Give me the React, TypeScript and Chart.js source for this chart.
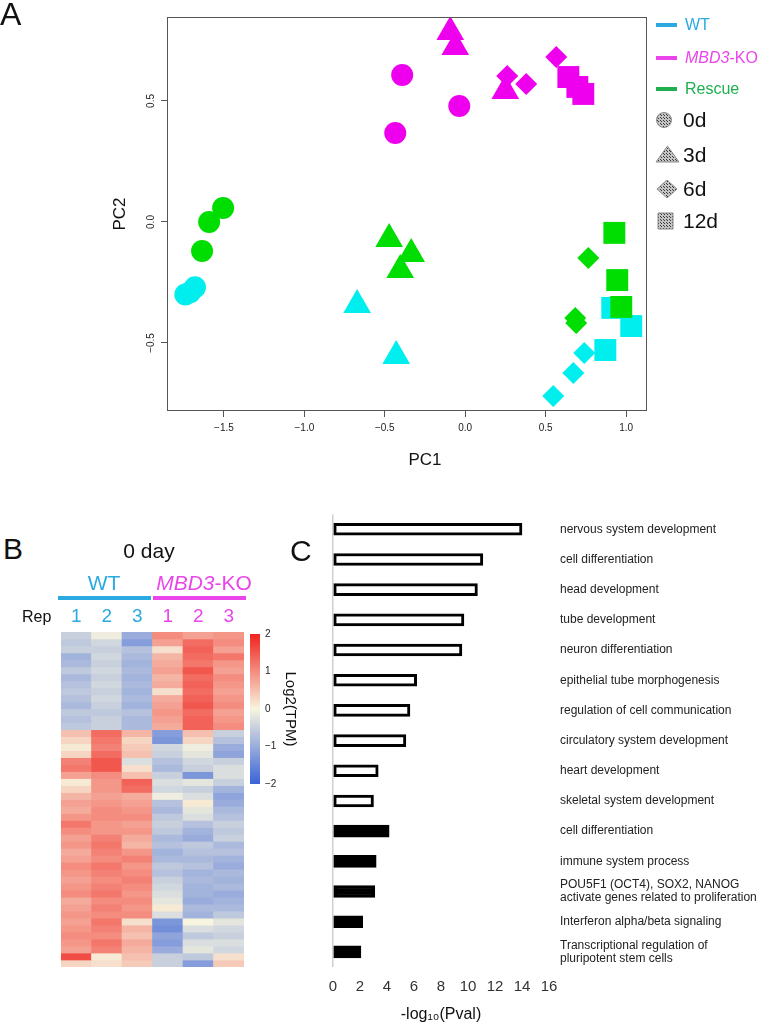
import React, { useEffect, useRef } from 'react';
import { Chart, registerables } from 'chart.js';

Chart.register(...registerables);

const FONT = "'Liberation Sans', Arial, Helvetica, sans-serif";

// ---------------- Panel A: PCA ----------------
const pcaXTicks = [-1.5, -1.0, -0.5, 0.0, 0.5, 1.0];
const pcaYTicks = [-0.5, 0.0, 0.5];
const groupNames = ['WT', 'MBD3-KO', 'Rescue'];
const timeLabels = ['0d', '3d', '6d', '12d'];

const wt0d = [[-1.74, -0.30], [-1.71, -0.29], [-1.68, -0.27]];
const wt3d = [[-0.672, -0.343], [-0.429, -0.554]];
const wt6d = [[0.547, -0.719], [0.672, -0.624], [0.74, -0.541]];
const wt12d = [[0.914, -0.355], [1.032, -0.43], [0.871, -0.529]];
const ko0d = [[-0.392, 0.607], [-0.037, 0.479], [-0.435, 0.368]];
const ko3d = [[-0.093, 0.785], [-0.062, 0.723], [0.249, 0.541]];
const ko6d = [[0.566, 0.682], [0.379, 0.57], [0.261, 0.603]];
const ko12d = [[0.641, 0.599], [0.697, 0.558], [0.734, 0.529]];
const rescue0d = [[-1.505, 0.058], [-1.592, 0.0], [-1.636, -0.12]];
const rescue3d = [[-0.473, -0.07], [-0.336, -0.132], [-0.404, -0.198]];
const rescue6d = [[0.765, -0.149], [0.684, -0.397], [0.69, -0.417]];
const rescue12d = [[0.927, -0.045], [0.945, -0.24], [0.97, -0.351]];

// ---------------- Panel B: heatmap (log2 TPM, z-scored) ----------------
const repLabels = ['1', '2', '3', '1', '2', '3'];
const wtRep1 = [-0.5, -0.6, -0.5, -0.9, -0.8, -0.6, -0.8, -0.7, -0.6, -0.7, -0.8, -0.6, -0.7, -0.6,
  0.5, 0.3, 0.1, 0.3, 1.1, 1.2, 0.8, 0.1, 0.3, 0.6, 0.8, 0.7, 0.9, 1.2, 1.0, 0.8, 0.9, 0.7, 0.8, 1.0, 0.9, 0.8, 0.9, 1.0, 0.7, 0.8, 0.9, 0.8, 0.9, 1.0, 0.9, 0.8, 1.6, 0.3];
const wtRep2 = [-0.1, -0.4, -0.5, -0.4, -0.5, -0.4, -0.5, -0.4, -0.5, -0.4, -0.5, -0.6, -0.5, -0.5,
  1.3, 1.2, 1.1, 1.3, 1.5, 1.5, 1.0, 0.9, 0.9, 0.8, 0.9, 1.0, 1.0, 0.9, 0.9, 1.1, 1.2, 1.1, 1.0, 1.2, 1.1, 1.0, 1.1, 1.2, 1.0, 1.1, 1.0, 1.2, 1.1, 1.0, 1.2, 1.1, 0.1, 0.2];
const wtRep3 = [-1.0, -1.2, -0.7, -0.8, -0.9, -0.8, -0.9, -0.8, -0.9, -0.8, -0.9, -0.7, -0.8, -0.8,
  0.6, 0.3, 0.4, 0.5, -0.3, 0.2, 0.5, 1.4, 1.3, 0.7, 0.8, 0.9, 1.0, 0.8, 0.9, 0.7, 0.6, 0.9, 1.1, 0.9, 1.0, 1.1, 1.0, 0.9, 1.0, 0.9, 1.0, 0.2, 0.6, 0.5, 0.7, 0.6, 0.5, 0.4];
const koRep1 = [1.0, 0.8, 0.2, 0.6, 0.7, 0.8, 0.6, 0.7, 0.2, 0.7, 0.8, 0.9, 0.8, 0.7,
  -1.2, -1.3, -0.4, -0.5, -0.7, -0.8, -0.5, -0.3, -0.4, -0.1, -0.7, -0.8, -0.6, -0.5, -0.6, -0.8, -0.7, -0.9, -0.8, -0.6, -0.7, -0.5, -0.4, -0.3, -0.2, 0.1, -0.3, -1.3, -1.4, -1.1, -1.2, -1.0, -0.5, -0.5];
const koRep2 = [0.8, 1.3, 1.4, 1.3, 1.2, 1.5, 1.3, 1.4, 1.3, 1.4, 1.5, 1.3, 1.4, 1.4,
  0.5, 0.3, -0.1, -0.2, -0.4, -0.5, -1.3, -0.2, -0.5, -0.3, 0.1, -0.2, -0.3, -0.7, -0.9, -1.0, -0.6, -0.7, -0.8, -0.7, -0.9, -0.8, -0.9, -0.9, -1.0, -0.8, -0.9, 0.0, -0.3, -0.6, -0.3, -0.2, -0.6, -1.2];
const koRep3 = [0.9, 1.0, 0.8, 1.2, 0.9, 0.8, 1.0, 0.9, 0.8, 0.9, 1.0, 0.8, 0.9, 1.0,
  -0.5, -0.7, -1.0, -1.1, -0.5, -0.3, -0.3, -0.5, -0.9, -1.1, -1.0, -0.8, -0.7, -0.5, -0.6, -0.5, -0.8, -0.7, -0.9, -1.0, -0.8, -0.9, -0.8, -1.0, -0.9, -0.8, -0.6, -0.2, -0.4, -0.5, -0.3, -0.4, 0.2, 0.4];
const colorbarRange = [-2, 2];

// ---------------- Panel C: enrichment ----------------
const goTerms = [
  'nervous system development', 'cell differentiation', 'head development', 'tube development',
  'neuron differentiation', 'epithelial tube morphogenesis', 'regulation of cell communication',
  'circulatory system development', 'heart development', 'skeletal system development',
];
const goValues = [14.0, 11.1, 10.7, 9.7, 9.55, 6.2, 5.7, 5.4, 3.35, 3.0];
const pathwayTerms: (string | string[])[] = [
  'cell differentiation', 'immune system process',
  ['POU5F1 (OCT4), SOX2, NANOG', 'activate genes related to proliferation'],
  'Interferon alpha/beta signaling',
  ['Transcriptional regulation of', 'pluripotent stem cells'],
];
const pathwayValues = [4.16, 3.2, 3.1, 2.2, 2.07];
const barXTicks = [0, 2, 4, 6, 8, 10, 12, 14, 16];

// ---------------- styling helpers ----------------
const BLUE = '#2BA9E1';
const MAGENTA = '#EA45EA';
const GREEN = '#1DAF50';
const groupTextColors = [BLUE, MAGENTA, GREEN];
const pointColors = ['#00EEEE', '#EE00EE', '#00DD00'];

const fmt1 = (v: number) => (v < 0 ? '\u2212' : '') + Math.abs(v).toFixed(1);

const lowC = [58, 99, 216];
const midC = [247, 244, 223];
const highC = [240, 35, 30];
function heatColor(v: number) {
  const t = Math.max(-2, Math.min(2, v)) / 2;
  const b = t < 0 ? lowC : highC;
  const f = Math.abs(t);
  const c = midC.map((x, i) => Math.round(x + (b[i] - x) * f));
  return `rgb(${c[0]},${c[1]},${c[2]})`;
}

function makePattern(ctx: CanvasRenderingContext2D) {
  const c = document.createElement('canvas');
  c.width = 3; c.height = 3;
  const p = c.getContext('2d')!;
  p.fillStyle = '#c4c4c4';
  p.fillRect(0, 0, 3, 3);
  p.fillStyle = '#3a3a3a';
  p.fillRect(1, 1, 1, 1);
  p.fillRect(0, 0, 1, 1);
  return ctx.createPattern(c, 'repeat')!;
}

const pcaDecor = {
  id: 'pcaDecor',
  afterDraw(chart: any) {
    const { ctx, chartArea: a, scales } = chart;
    ctx.save();
    ctx.strokeStyle = '#555';
    ctx.lineWidth = 1;
    ctx.strokeRect(Math.round(a.left) + 0.5, Math.round(a.top) + 0.5, Math.round(a.right - a.left) - 1, Math.round(a.bottom - a.top) - 1);

    ctx.fillStyle = '#222';
    ctx.font = `10px ${FONT}`;
    ctx.textAlign = 'center';
    ctx.textBaseline = 'middle';
    for (const v of pcaYTicks) {
      const y = scales.y.getPixelForValue(v);
      ctx.save();
      ctx.translate(151, y);
      ctx.rotate(-Math.PI / 2);
      ctx.fillText(fmt1(v), 0, 0);
      ctx.restore();
    }
    ctx.fillStyle = '#111';
    ctx.font = `17px ${FONT}`;
    ctx.fillText('PC1', 425, 460);

    // legend: groups
    const gy = [25, 58, 89];
    groupNames.forEach((name, i) => {
      ctx.strokeStyle = groupTextColors[i];
      ctx.lineWidth = 4;
      ctx.beginPath();
      ctx.moveTo(656, gy[i]);
      ctx.lineTo(677, gy[i]);
      ctx.stroke();
      ctx.fillStyle = groupTextColors[i];
      ctx.textAlign = 'left';
      ctx.textBaseline = 'middle';
      if (name.includes('-KO')) {
        const [it, rest] = name.split('-');
        ctx.font = `italic 16px ${FONT}`;
        ctx.fillText(it, 685, gy[i] + 1);
        const w = ctx.measureText(it).width;
        ctx.font = `16px ${FONT}`;
        ctx.fillText('-' + rest, 685 + w, gy[i] + 1);
      } else {
        ctx.font = `16px ${FONT}`;
        ctx.fillText(name, 685, gy[i] + 1);
      }
    });
    // legend: time shapes
    const pat = makePattern(ctx);
    ctx.fillStyle = pat;
    ctx.strokeStyle = '#8a8a8a';
    ctx.lineWidth = 1;
    const ty = [120, 155, 189, 221];
    ctx.beginPath(); ctx.arc(664, ty[0], 7.5, 0, Math.PI * 2); ctx.fill(); ctx.stroke();
    ctx.beginPath(); ctx.moveTo(667.5, ty[1] - 9); ctx.lineTo(679, ty[1] + 7); ctx.lineTo(656, ty[1] + 7); ctx.closePath(); ctx.fill(); ctx.stroke();
    ctx.beginPath(); ctx.moveTo(667, ty[2] - 9); ctx.lineTo(677, ty[2]); ctx.lineTo(667, ty[2] + 9); ctx.lineTo(657, ty[2]); ctx.closePath(); ctx.fill(); ctx.stroke();
    ctx.beginPath(); ctx.rect(658, ty[3] - 8, 15, 16); ctx.fill(); ctx.stroke();
    ctx.fillStyle = '#111';
    ctx.font = `21px ${FONT}`;
    ctx.textAlign = 'left';
    ctx.textBaseline = 'middle';
    timeLabels.forEach((t, i) => ctx.fillText(t, 683, ty[i] + 1));
    ctx.restore();
  },
};

function pcaConfig(): any {
  const groupsData = [
    [wt0d, wt3d, wt6d, wt12d],
    [ko0d, ko3d, ko6d, ko12d],
    [rescue0d, rescue3d, rescue6d, rescue12d],
  ];
  const shapes = ['circle', 'triangle', 'rectRot', 'rect'];
  const radii = [11, 16, 11, 15.5];
  const datasets: any[] = [];
  groupsData.forEach((g, gi) =>
    g.forEach((pts, ti) =>
      datasets.push({
        label: `${groupNames[gi]} ${timeLabels[ti]}`,
        data: pts.map(([x, y]) => ({ x, y })),
        pointStyle: shapes[ti],
        pointRadius: radii[ti],
        pointHoverRadius: radii[ti],
        backgroundColor: pointColors[gi],
        borderColor: pointColors[gi],
        pointBorderWidth: 0,
        borderWidth: 0,
      })
    )
  );
  datasets.reverse();
  return {
    type: 'scatter',
    data: { datasets },
    options: {
      responsive: false,
      animation: false,
      events: [],
      layout: { padding: { left: 106, top: 17, right: 115, bottom: 10 } },
      plugins: { legend: { display: false }, tooltip: { enabled: false } },
      scales: {
        x: {
          type: 'linear', min: -1.854, max: 1.13,
          afterBuildTicks: (s: any) => { s.ticks = pcaXTicks.map((v) => ({ value: v })); },
          afterFit: (s: any) => { s.height = 59; },
          grid: { drawOnChartArea: false, drawTicks: true, tickLength: 6, color: '#555' },
          border: { display: false },
          ticks: { font: { size: 10 }, color: '#222', padding: 5, autoSkip: false, maxRotation: 0, callback: (v: any) => fmt1(Number(v)) },
        },
        y: {
          type: 'linear', min: -0.781, max: 0.847, position: 'left',
          afterBuildTicks: (s: any) => { s.ticks = pcaYTicks.map((v) => ({ value: v })); },
          afterFit: (s: any) => { s.width = 61; },
          grid: { drawOnChartArea: false, drawTicks: true, tickLength: 6, color: '#555' },
          border: { display: false },
          ticks: { display: false },
          title: { display: true, text: 'PC2', font: { size: 17 }, color: '#111' },
        },
      },
    },
    plugins: [pcaDecor],
  };
}

function heatConfig(): any {
  const cols = [wtRep1, wtRep2, wtRep3, koRep1, koRep2, koRep3];
  const datasets = wtRep1.map((_, r) => ({
    label: `gene ${r + 1}`,
    data: cols.map(() => 1),
    backgroundColor: cols.map((c) => heatColor(c[r])),
    borderWidth: 0,
    barPercentage: 1,
    categoryPercentage: 1,
  }));
  return {
    type: 'bar',
    data: { labels: repLabels, datasets },
    options: {
      responsive: false,
      animation: false,
      events: [],
      layout: { padding: { left: 61, right: 6, top: 0, bottom: 13 } },
      plugins: { legend: { display: false }, tooltip: { enabled: false } },
      scales: {
        x: {
          stacked: true, position: 'top',
          afterFit: (s: any) => { s.height = 42; },
          grid: { display: false, drawTicks: false, tickLength: 0 }, border: { display: false },
          ticks: { font: { size: 19 }, padding: 4, color: (c: any) => (c.index < 3 ? BLUE : MAGENTA) },
        },
        y: { stacked: true, display: false, min: 0, max: wtRep1.length, reverse: true },
      },
    },
  };
}

function cbarConfig(): any {
  return {
    type: 'bar',
    data: {
      labels: [''],
      datasets: [{
        data: [colorbarRange],
        borderWidth: 0,
        barPercentage: 1,
        categoryPercentage: 1,
        backgroundColor: (c: any) => {
          const ch = c.chart;
          const a = ch.chartArea;
          if (!a) return '#ccc';
          const y = ch.scales.y;
          const g = ch.ctx.createLinearGradient(0, y.getPixelForValue(colorbarRange[0]), 0, y.getPixelForValue(colorbarRange[1]));
          g.addColorStop(0, heatColor(-2));
          g.addColorStop(0.25, heatColor(-1));
          g.addColorStop(0.5, heatColor(0));
          g.addColorStop(0.75, heatColor(1));
          g.addColorStop(1, heatColor(2));
          return g;
        },
      }],
    },
    options: {
      responsive: false,
      animation: false,
      events: [],
      layout: { padding: { left: 5, top: 14, bottom: 16, right: 0 } },
      plugins: { legend: { display: false }, tooltip: { enabled: false } },
      scales: {
        x: { display: false },
        y: {
          position: 'right', min: colorbarRange[0], max: colorbarRange[1],
          afterFit: (s: any) => { s.width = 43; },
          grid: { display: false, drawTicks: false, tickLength: 0 }, border: { display: false },
          ticks: { stepSize: 1, font: { size: 10 }, color: '#222', padding: 5, callback: (v: any) => (Number(v) < 0 ? '\u2212' + Math.abs(Number(v)) : String(v)) },
          title: { display: true, text: 'Log2(TPM)', font: { size: 15 }, color: '#111' },
        },
      },
    },
  };
}

function barConfig(): any {
  const labels = [...goTerms, ...pathwayTerms];
  const values = [...goValues, ...pathwayValues];
  const fills = [...goValues.map(() => '#ffffff'), ...pathwayValues.map(() => '#000000')];
  return {
    type: 'bar',
    data: {
      labels,
      datasets: [{
        data: values,
        backgroundColor: fills,
        borderColor: '#000000',
        borderWidth: 3,
        borderSkipped: false,
        barThickness: 12,
      }],
    },
    options: {
      indexAxis: 'y',
      responsive: false,
      animation: false,
      events: [],
      layout: { padding: { left: 33, top: 19, right: 0, bottom: 0 } },
      plugins: { legend: { display: false }, tooltip: { enabled: false } },
      scales: {
        x: {
          min: 0, max: 16,
          afterBuildTicks: (s: any) => { s.ticks = barXTicks.map((v) => ({ value: v })); },
          afterFit: (s: any) => { s.height = 59; },
          grid: { drawTicks: false, tickLength: 0, lineWidth: 1.5, color: (c: any) => (c.tick && c.tick.value === 0 ? '#cfcfcf' : 'rgba(0,0,0,0)') },
          border: { display: false },
          ticks: { font: { size: 15 }, color: '#333', padding: 11, autoSkip: false, maxRotation: 0 },
          title: { display: true, text: '-log\u2081\u2080(Pval)', font: { size: 16 }, color: '#111', padding: { top: 0, bottom: 2 } },
        },
        y: {
          position: 'right',
          afterFit: (s: any) => { s.width = 213; },
          grid: { display: false, drawTicks: false, tickLength: 0 }, border: { display: false },
          ticks: { font: { size: 12, lineHeight: 1.1 }, color: '#222', padding: 11, autoSkip: false },
        },
      },
    },
  };
}

const Label = ({ x, y, size, color = '#111', left = false, children }: any) => (
  <div
    style={{
      position: 'absolute', left: x, top: y, fontSize: size, lineHeight: 1, color,
      fontFamily: FONT, whiteSpace: 'nowrap',
      transform: left ? 'translate(0,-50%)' : 'translate(-50%,-50%)',
    }}
  >
    {children}
  </div>
);

export default function App() {
  const pcaRef = useRef<HTMLCanvasElement>(null);
  const heatRef = useRef<HTMLCanvasElement>(null);
  const cbarRef = useRef<HTMLCanvasElement>(null);
  const barRef = useRef<HTMLCanvasElement>(null);

  useEffect(() => {
    Chart.defaults.font.family = FONT;
    const charts = [
      new Chart(pcaRef.current!, pcaConfig()),
      new Chart(heatRef.current!, heatConfig()),
      new Chart(cbarRef.current!, cbarConfig()),
      new Chart(barRef.current!, barConfig()),
    ];
    return () => charts.forEach((c) => c.destroy());
  }, []);

  const cv = (l: number, t: number): React.CSSProperties => ({ position: 'absolute', left: l, top: t });

  return (
    <div style={{ position: 'absolute', left: 0, top: 0, width: 762, height: 1026, background: '#fff', overflow: 'hidden', fontFamily: FONT }}>
      <canvas ref={pcaRef} width={762} height={480} style={cv(0, 0)} />
      <canvas ref={heatRef} width={250} height={390} style={cv(0, 590)} />
      <canvas ref={cbarRef} width={58} height={180} style={cv(245, 620)} />
      <canvas ref={barRef} width={462} height={536} style={cv(300, 490)} />

      <Label x={0} y={13.5} size={32} left>A</Label>
      <Label x={3} y={549} size={30} left>B</Label>
      <Label x={290} y={551} size={30} left>C</Label>
      <Label x={149} y={549.5} size={21}>0 day</Label>
      <Label x={104} y={582} size={21} color={BLUE}>WT</Label>
      <Label x={204} y={582} size={21} color={MAGENTA}><i>MBD3</i>-KO</Label>
      <div style={{ position: 'absolute', left: 58, top: 596, width: 93, height: 4, background: BLUE }} />
      <div style={{ position: 'absolute', left: 153, top: 596, width: 93, height: 4, background: MAGENTA }} />
      <Label x={22} y={617} size={16} left>Rep</Label>
    </div>
  );
}
